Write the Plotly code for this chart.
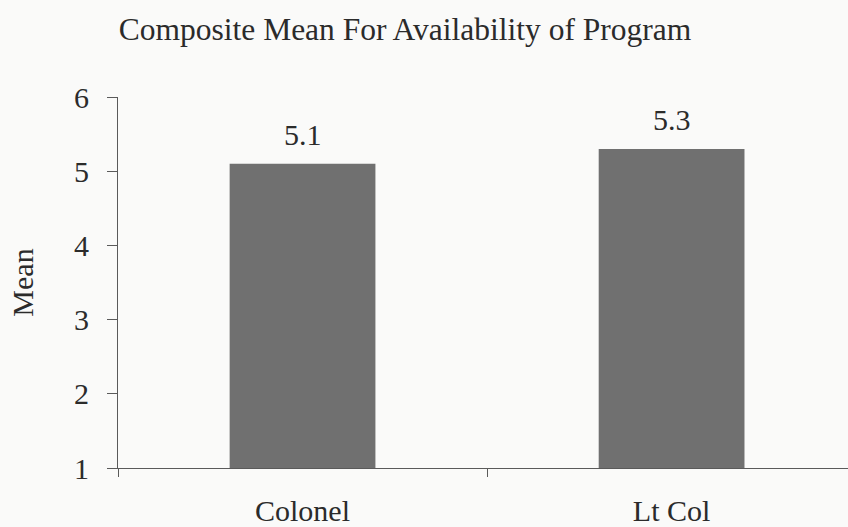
import plotly.graph_objects as go

# Composite mean ratings by rank
categories = ["Colonel", "Lt Col"]
means = [5.1, 5.3]

title_text = "Composite Mean For Availability of Program"
y_title = "Mean"

FONT = "Liberation Serif"
INK = "#2b2b2b"
AXIS = "#5a5a5a"

fig = go.Figure()
fig.add_trace(go.Bar(
    x=categories,
    y=means,
    width=0.395,
    marker=dict(color="#707070", line=dict(width=0)),
    hoverinfo="skip",
))

# value labels above each bar
for cat, val in zip(categories, means):
    fig.add_annotation(
        x=cat, y=val, text=f"{val:.1f}",
        showarrow=False, yanchor="bottom", yshift=11,
        font=dict(family=FONT, size=30, color=INK),
    )

fig.update_layout(
    width=848, height=527,
    margin=dict(l=118, r=0, t=97, b=59),
    paper_bgcolor="#fafaf9",
    plot_bgcolor="#fafaf9",
    showlegend=False,
    font=dict(family=FONT, size=30, color=INK),
    title=dict(
        text=title_text,
        x=405 / 848, xanchor="center", xref="container",
        y=1 - 29 / 527, yanchor="middle", yref="container",
        font=dict(family=FONT, size=31.5, color=INK),
    ),
    bargap=0.6,
)

fig.update_xaxes(
    range=[-0.5, 1.478],
    showline=True, linecolor=AXIS, linewidth=1.2,
    ticks="outside", ticklen=8, tickcolor=AXIS, tickwidth=1.2,
    tickson="boundaries",
    ticklabelstandoff=16,
    showgrid=False, zeroline=False,
    tickfont=dict(family=FONT, size=30, color=INK),
)

fig.update_yaxes(
    range=[1, 6], dtick=1, tick0=1,
    showline=True, linecolor=AXIS, linewidth=1.2,
    ticks="outside", ticklen=10, tickcolor=AXIS, tickwidth=1.2,
    ticklabelstandoff=12,
    showgrid=False, zeroline=False,
    tickfont=dict(family=FONT, size=30, color=INK),
    title=dict(text=y_title, standoff=31,
               font=dict(family=FONT, size=30, color=INK)),
)

fig.write_html("out.html")
